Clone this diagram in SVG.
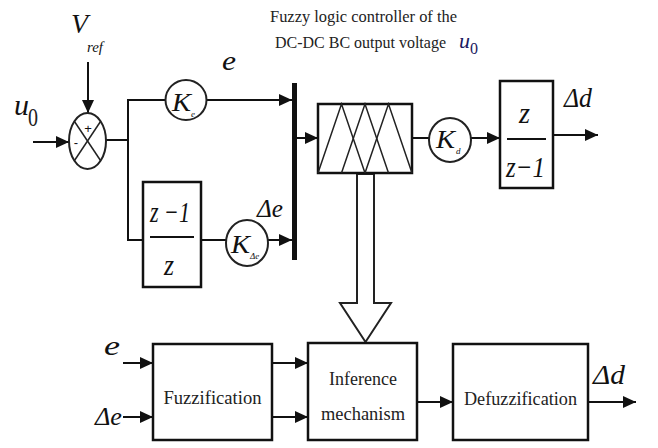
<svg xmlns="http://www.w3.org/2000/svg" width="658" height="448" viewBox="0 0 658 448">
<style>
.ln{stroke:#111;stroke-width:2;fill:none}
.bx{stroke:#111;stroke-width:2.5;fill:#fff}
.m{font-family:"Liberation Serif","DejaVu Serif",serif;font-style:italic;fill:#111}
.t{font-family:"Liberation Serif","DejaVu Serif",serif;fill:#222}
.sg{font-family:"Liberation Sans","DejaVu Sans",sans-serif;fill:#111}
</style>
<defs>
<marker id="ah" markerUnits="userSpaceOnUse" markerWidth="14" markerHeight="12" refX="13" refY="6" orient="auto">
<path d="M0,0 L13,6 L0,12 z" fill="#111"/>
</marker>
</defs>
<rect width="658" height="448" fill="#fff"/>

<g id="title">
<text class="t" x="270" y="22" font-size="17" textLength="187" lengthAdjust="spacingAndGlyphs">Fuzzy logic controller of the</text>
<text class="t" x="275" y="48" font-size="17" textLength="171" lengthAdjust="spacingAndGlyphs">DC-DC BC output voltage</text>
<text class="m" x="459" y="48" font-size="22" style="fill:#1a1a60">u</text>
<text class="t" x="470" y="54" font-size="16" style="fill:#1a1a60">0</text>
</g>

<g id="connectors">
<line class="ln" x1="33" y1="142" x2="69" y2="142" marker-end="url(#ah)"/>
<line class="ln" x1="88" y1="62" x2="88" y2="113" marker-end="url(#ah)"/>
<polyline class="ln" points="106,140 128,140"/>
<polyline class="ln" points="166,100 128,100 128,240 143,240"/>
<line class="ln" x1="206" y1="100" x2="292" y2="100" marker-end="url(#ah)"/>
<line class="ln" x1="201" y1="240" x2="226" y2="240"/>
<line class="ln" x1="268" y1="240" x2="292" y2="240" marker-end="url(#ah)"/>
<line class="ln" x1="297" y1="138" x2="318" y2="138" marker-end="url(#ah)"/>
<line class="ln" x1="412" y1="138" x2="429" y2="138"/>
<line class="ln" x1="471" y1="138" x2="500" y2="138" marker-end="url(#ah)"/>
<line class="ln" x1="553" y1="135" x2="598" y2="135" marker-end="url(#ah)"/>
<polygon points="357,174 357,303 340,303 365.5,342 391,303 374,303 374,174" fill="#fff" stroke="#222" stroke-width="2"/>
<line class="ln" x1="123" y1="363" x2="153" y2="363" marker-end="url(#ah)"/>
<line class="ln" x1="123" y1="417" x2="153" y2="417" marker-end="url(#ah)"/>
<line class="ln" x1="272" y1="363" x2="308" y2="363" marker-end="url(#ah)"/>
<line class="ln" x1="272" y1="417" x2="308" y2="417" marker-end="url(#ah)"/>
<line class="ln" x1="417" y1="402" x2="453" y2="402" marker-end="url(#ah)"/>
<line class="ln" x1="588" y1="402" x2="636" y2="402" marker-end="url(#ah)"/>
</g>

<g id="labels">
<text class="m" x="14" y="115" font-size="30" textLength="15" lengthAdjust="spacingAndGlyphs">u</text>
<text class="t" x="28" y="126" font-size="26" textLength="10" lengthAdjust="spacingAndGlyphs">0</text>
<text class="m" x="71" y="33" font-size="28" textLength="17" lengthAdjust="spacingAndGlyphs">V</text>
<text class="m" x="87" y="52" font-size="15" textLength="16" lengthAdjust="spacingAndGlyphs">ref</text>
<text class="m" x="222" y="70" font-size="28" textLength="14" lengthAdjust="spacingAndGlyphs">e</text>
<text class="m" x="257" y="217" font-size="26" textLength="26" lengthAdjust="spacingAndGlyphs">Δe</text>
<text class="m" x="564" y="107" font-size="27" textLength="28" lengthAdjust="spacingAndGlyphs">Δd</text>
<text class="m" x="104" y="355" font-size="28" textLength="16" lengthAdjust="spacingAndGlyphs">e</text>
<text class="m" x="95" y="425" font-size="26" textLength="27" lengthAdjust="spacingAndGlyphs">Δe</text>
<text class="m" x="593" y="384" font-size="27" textLength="32" lengthAdjust="spacingAndGlyphs">Δd</text>
</g>

<g id="sum">
<ellipse cx="87.5" cy="141" rx="18.5" ry="28" fill="#fff" stroke="#222" stroke-width="2"/>
<line x1="74.5" y1="121.5" x2="100.5" y2="160.5" stroke="#222" stroke-width="1.5"/>
<line x1="100.5" y1="121.5" x2="74.5" y2="160.5" stroke="#222" stroke-width="1.5"/>
<text class="sg" x="88" y="133" font-size="13" text-anchor="middle">+</text>
<text class="sg" x="76" y="147" font-size="13" text-anchor="middle">-</text>
</g>

<g id="Ke">
<ellipse cx="186" cy="100" rx="20.5" ry="20" fill="#fff" stroke="#222" stroke-width="2"/>
<text class="m" x="172" y="111" font-size="26" textLength="19" lengthAdjust="spacingAndGlyphs">K</text>
<text class="m" x="191" y="117" font-size="9">e</text>
</g>

<g id="KDe">
<ellipse cx="247" cy="243" rx="21" ry="23" fill="#fff" stroke="#222" stroke-width="2"/>
<text class="m" x="231" y="253" font-size="26" textLength="19" lengthAdjust="spacingAndGlyphs">K</text>
<text class="m" x="250" y="259" font-size="9">Δe</text>
</g>

<g id="Kd">
<ellipse cx="450" cy="140" rx="21" ry="22" fill="#fff" stroke="#222" stroke-width="2"/>
<text class="m" x="436" y="148" font-size="26" textLength="19" lengthAdjust="spacingAndGlyphs">K</text>
<text class="m" x="456" y="154" font-size="9">d</text>
</g>

<g id="diff">
<rect class="bx" x="143" y="182" width="58" height="105"/>
<text class="m" x="150" y="222" font-size="30" textLength="40" lengthAdjust="spacingAndGlyphs">z −1</text>
<line x1="150" y1="237" x2="194" y2="237" stroke="#111" stroke-width="2"/>
<text class="m" x="164" y="275" font-size="30" textLength="10" lengthAdjust="spacingAndGlyphs">z</text>
</g>

<g id="mux">
<rect x="292" y="83" width="5" height="177" fill="#111"/>
</g>

<g id="fuzzy">
<rect class="bx" x="318" y="104" width="94" height="69" stroke-width="2"/>
<polyline points="318,173 341.5,104 365,173" fill="none" stroke="#222" stroke-width="1.5"/>
<polyline points="341.5,173 365,104 388.5,173" fill="none" stroke="#222" stroke-width="1.5"/>
<polyline points="365,173 388.5,104 412,173" fill="none" stroke="#222" stroke-width="1.5"/>
</g>

<g id="integ">
<rect class="bx" x="500" y="81" width="53" height="107"/>
<text class="m" x="519" y="123" font-size="30" textLength="11" lengthAdjust="spacingAndGlyphs">z</text>
<line x1="507" y1="139" x2="546" y2="139" stroke="#111" stroke-width="2"/>
<text class="m" x="506" y="177" font-size="30" textLength="39" lengthAdjust="spacingAndGlyphs">z−1</text>
</g>

<g id="fuzzification">
<rect class="bx" x="153" y="344" width="119" height="96"/>
<text class="t" x="212.5" y="404" font-size="18" text-anchor="middle" textLength="98" lengthAdjust="spacingAndGlyphs">Fuzzification</text>
</g>

<g id="inference">
<rect class="bx" x="308" y="343" width="109" height="97"/>
<text class="t" x="363" y="385" font-size="18" text-anchor="middle">Inference</text>
<text class="t" x="363" y="420" font-size="18" text-anchor="middle" textLength="84" lengthAdjust="spacingAndGlyphs">mechanism</text>
</g>

<g id="defuzzification">
<rect class="bx" x="453" y="344" width="135" height="96"/>
<text class="t" x="520.5" y="405" font-size="18" text-anchor="middle" textLength="113" lengthAdjust="spacingAndGlyphs">Defuzzification</text>
</g>
</svg>
